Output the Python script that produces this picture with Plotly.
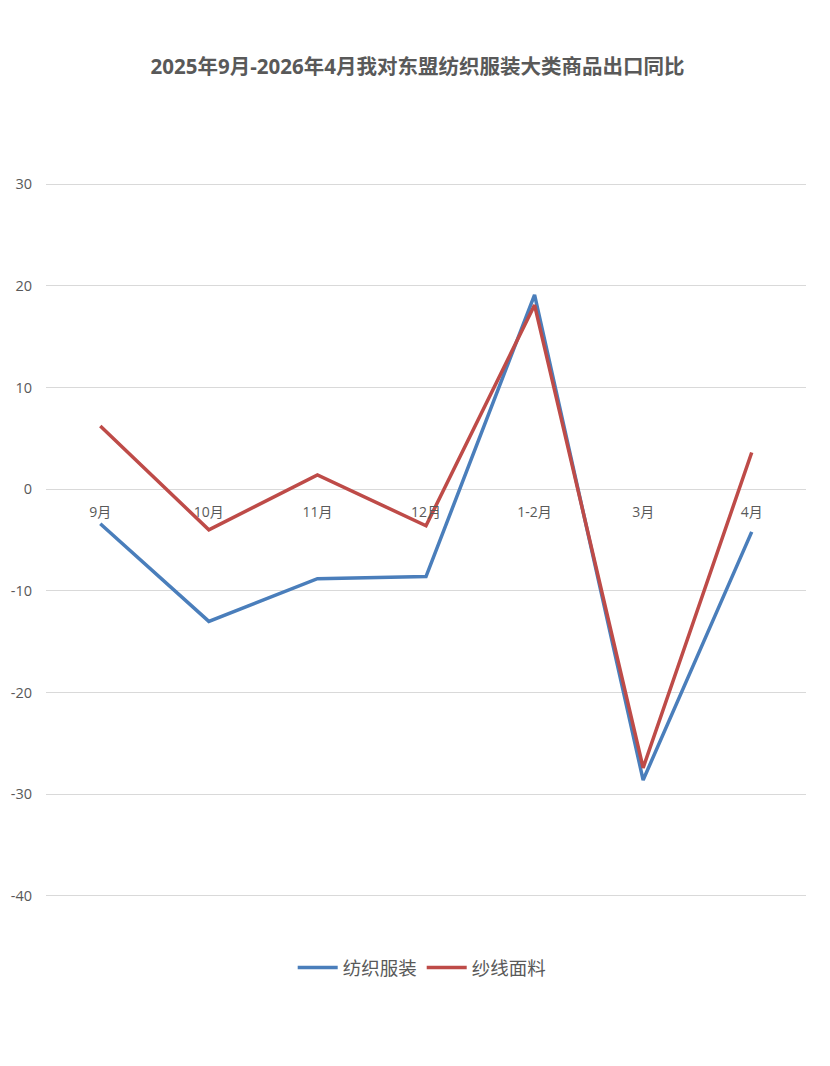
import plotly.graph_objects as go

categories = ["9月", "10月", "11月", "12月", "1-2月", "3月", "4月"]
textile_apparel = [-3.4, -13.0, -8.8, -8.6, 19.1, -28.6, -4.2]
yarn_fabric = [6.2, -4.0, 1.4, -3.6, 18.1, -27.4, 3.6]
series_names = ["纺织服装", "纱线面料"]
y_ticks = [30, 20, 10, 0, -10, -20, -30, -40]
y_tick_text = ["30", "20", "10", "0", "-10", "-20", "-30", "-40"]

FONT = "Open Sans, Noto Sans CJK SC, sans-serif"
GRAY = "#595959"

fig = go.Figure()
fig.add_trace(go.Scatter(x=categories, y=textile_apparel, name=series_names[0],
                         mode="lines", line=dict(color="#4a7ebb", width=3.5)))
fig.add_trace(go.Scatter(x=categories, y=yarn_fabric, name=series_names[1],
                         mode="lines", line=dict(color="#be4b48", width=3.5)))

fig.update_layout(
    width=830, height=1066,
    margin=dict(l=46, r=24, t=182, b=168, autoexpand=False),
    paper_bgcolor="white", plot_bgcolor="white",
    font=dict(family=FONT, color=GRAY, size=14),
    title=dict(text="<b>2025年9月-2026年4月我对东盟纺织服装大类商品出口同比</b>",
               x=0.503, xanchor="center", y=1 - 67 / 1066, yanchor="middle",
               yref="container",
               font=dict(family=FONT, size=20.5, color=GRAY)),
    xaxis=dict(type="category", range=[-0.5, 6.5], showgrid=False, showline=False,
               zeroline=False, anchor="free", position=40.2 / 70.4, automargin=False,
               ticks="", ticklabelstandoff=13,
               tickfont=dict(size=14, color=GRAY)),
    yaxis=dict(range=[-40.2, 30.2], tickvals=y_ticks, ticktext=y_tick_text,
               showgrid=True, gridcolor="#d9d9d9", automargin=False,
               gridwidth=1, zeroline=False, showline=False, ticks="",
               ticklabelstandoff=13, tickfont=dict(size=14.5, color=GRAY)),
    legend=dict(orientation="h", x=0.495, xanchor="center", y=-70 / 716, yanchor="middle",
                font=dict(size=18.5, color=GRAY), itemwidth=40, tracegroupgap=0),
    showlegend=True,
)

fig.write_html("out.html")
